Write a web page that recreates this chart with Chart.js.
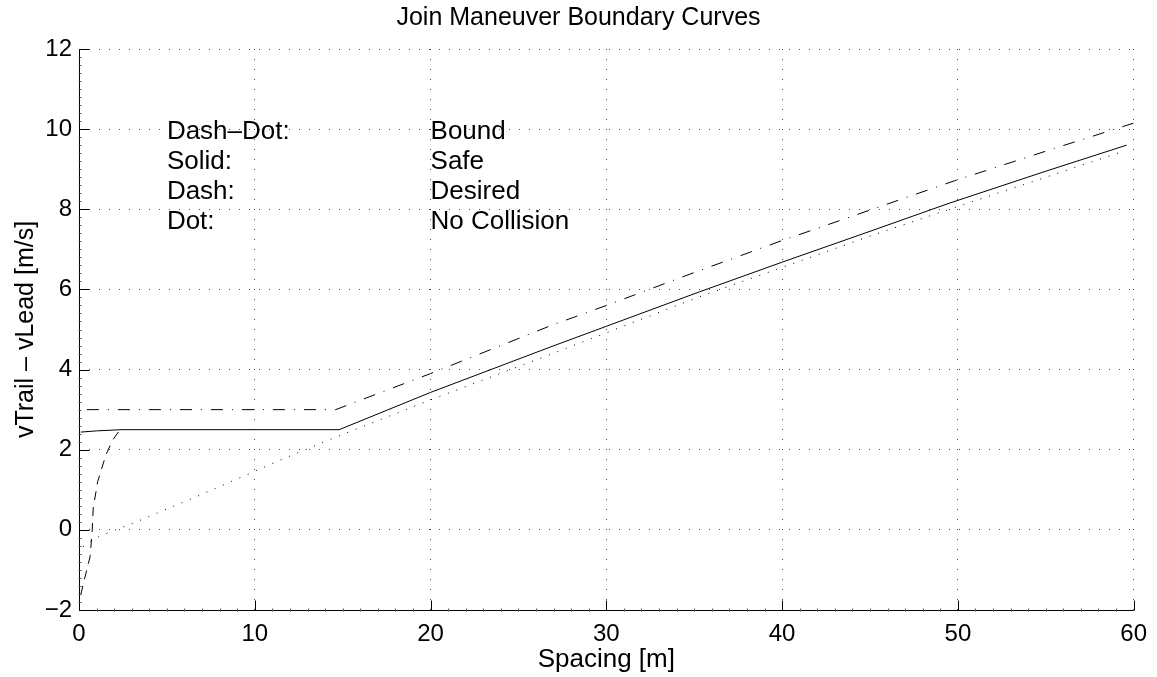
<!DOCTYPE html>
<html>
<head>
<meta charset="utf-8">
<title>Join Maneuver Boundary Curves</title>
<script src="https://cdn.jsdelivr.net/npm/chart.js@4.4.1/dist/chart.umd.min.js"></script>
<style>
    html, body { margin: 0; padding: 0; background: #fff; }
</style>
</head>
<body>
<canvas id="boundaryChart" width="1157" height="677"></canvas>
<script>
// Boundary curves: spacing [m] against vTrail - vLead [m/s]
const boundSpacing = [0.45, 14.6, 20, 26.8, 30, 35.3, 40, 45, 49.8, 55, 60];
const boundSpeed   = [3.0, 3.0, 3.9, 5.09, 5.6, 6.47, 7.22, 7.98, 8.71, 9.45, 10.15];

const safeSpacing = [0.1, 1.0, 2.4, 14.8, 20, 26.8, 30, 35.3, 40, 45, 49.5, 55, 59.6];
const safeSpeed   = [2.44, 2.47, 2.5, 2.5, 3.43, 4.56, 5.08, 5.94, 6.68, 7.45, 8.15, 8.95, 9.6];

const desiredSpacing = [0.1, 0.3, 0.63, 0.74, 0.81, 1.06, 1.53, 1.91, 2.29, 2.5];
const desiredSpeed   = [-1.62, -1.25, -0.67, -0.09, 0.54, 1.2, 1.87, 2.24, 2.47, 2.5];

const noCollisionSpacing = [0.24, 0.6, 1.2, 3.1, 6.9, 11.6, 14.7, 19.75, 26.95, 35.2, 40, 45, 50.06, 55, 59.5];
const noCollisionSpeed   = [-0.42, -0.3, -0.15, 0.17, 0.87, 1.77, 2.33, 3.2, 4.4, 5.8, 6.55, 7.33, 8.08, 8.8, 9.46];

const xTicks = [0, 10, 20, 30, 40, 50, 60];
const yTicks = [-2, 0, 2, 4, 6, 8, 10, 12];

const chartTitle = "Join Maneuver Boundary Curves";

// line-style key written inside the axes
const keyStyles   = ["Dash\u2013Dot:", "Solid:", "Dash:", "Dot:"];
const keyMeanings = ["Bound", "Safe", "Desired", "No Collision"];
const keyRows = [10, 9.25, 8.5, 7.75];
const keyCols = [5, 20];

const FONT = '"Liberation Sans", Arial, Helvetica, sans-serif';

function toPoints(xs, ys) {
    return xs.map((x, i) => ({ x: x, y: ys[i] }));
}

function curve(label, xs, ys, dash) {
    return {
        label: label,
        data: toPoints(xs, ys),
        showLine: true,
        borderColor: "#000",
        borderWidth: 1,
        borderDash: dash,
        pointRadius: 0,
        pointHoverRadius: 0,
        fill: false,
        tension: 0
    };
}

// title centred on the figure, axis lines, inward ticks and the text key
const matlabAxes = {
    id: "matlabAxes",
    afterDatasetsDraw(chart) {
        const { ctx, chartArea, scales } = chart;
        const { left, right, top, bottom } = chartArea;
        const xs = scales.x, ys = scales.y;
        const lx = Math.round(left) + 0.5;
        const by = Math.round(bottom) + 0.5;

        ctx.save();
        ctx.setLineDash([]);
        ctx.strokeStyle = "#000";
        ctx.lineWidth = 1;

        ctx.beginPath();
        ctx.moveTo(lx, top);
        ctx.lineTo(lx, by);
        ctx.lineTo(right, by);
        ctx.stroke();

        // major ticks
        ctx.beginPath();
        xTicks.forEach(v => {
            const px = Math.round(xs.getPixelForValue(v)) + 0.5;
            ctx.moveTo(px, by);
            ctx.lineTo(px, by - 10);
        });
        yTicks.forEach(v => {
            const py = Math.round(ys.getPixelForValue(v)) + 0.5;
            ctx.moveTo(lx, py);
            ctx.lineTo(lx + 10, py);
        });
        ctx.stroke();

        // minor ticks
        ctx.strokeStyle = "#555";
        ctx.beginPath();
        for (let i = 1; i < 60; i++) {
            if (i % 10 === 0) continue;
            const px = Math.round(xs.getPixelForValue(i)) + 0.5;
            ctx.moveTo(px, by + 1);
            ctx.lineTo(px, by - 2);
        }
        for (let i = 1; i < 70; i++) {
            if (i % 10 === 0) continue;
            const py = Math.round(ys.getPixelForValue(-2 + i * 0.2)) + 0.5;
            ctx.moveTo(lx - 1, py);
            ctx.lineTo(lx + 2, py);
        }
        ctx.stroke();

        ctx.fillStyle = "#000";
        ctx.textBaseline = "middle";

        ctx.font = "25px " + FONT;
        ctx.textAlign = "center";
        ctx.fillText(chartTitle, chart.width / 2, 18);

        ctx.font = "26px " + FONT;
        ctx.textAlign = "left";
        keyRows.forEach((row, i) => {
            const py = ys.getPixelForValue(row) + 3;
            ctx.fillText(keyStyles[i], xs.getPixelForValue(keyCols[0]), py);
            ctx.fillText(keyMeanings[i], xs.getPixelForValue(keyCols[1]), py);
        });
        ctx.restore();
    }
};

const ctx = document.getElementById("boundaryChart").getContext("2d");
new Chart(ctx, {
    type: "scatter",
    data: {
        datasets: [
            curve("Bound", boundSpacing, boundSpeed, [12, 9, 1, 9]),
            curve("No Collision", noCollisionSpacing, noCollisionSpeed, [1, 8]),
            curve("Desired", desiredSpacing, desiredSpeed, [9, 7]),
            curve("Safe", safeSpacing, safeSpeed, [])
        ]
    },
    options: {
        responsive: false,
        animation: false,
        devicePixelRatio: 1,
        layout: { padding: { left: 0, right: 22, top: 49, bottom: 0 } },
        plugins: {
            legend: { display: false },
            tooltip: { enabled: false },
            title: { display: false }
        },
        scales: {
            x: {
                type: "linear",
                min: 0,
                max: 60,
                afterFit(scale) { scale.height = 67; },
                ticks: {
                    stepSize: 10,
                    color: "#000",
                    padding: 10,
                    maxRotation: 0,
                    font: { family: FONT, size: 24 }
                },
                grid: { color: "rgba(0,0,0,0.7)", lineWidth: 1, drawTicks: false },
                border: { display: false, dash: [1, 9] },
                title: {
                    display: true,
                    text: "Spacing [m]",
                    color: "#000",
                    font: { family: FONT, size: 26 },
                    padding: { top: 0, bottom: 2 }
                }
            },
            y: {
                type: "linear",
                min: -2,
                max: 12,
                afterFit(scale) { scale.width = 79; },
                ticks: {
                    stepSize: 2,
                    color: "#000",
                    padding: 7,
                    font: { family: FONT, size: 24 },
                    callback: v => String(v).replace("-", "\u2212")
                },
                grid: { color: "rgba(0,0,0,0.7)", lineWidth: 1, drawTicks: false },
                border: { display: false, dash: [1, 9] },
                title: {
                    display: true,
                    text: "vTrail \u2013 vLead [m/s]",
                    color: "#000",
                    font: { family: FONT, size: 25 },
                    padding: { top: 11, bottom: 0 }
                }
            }
        }
    },
    plugins: [matlabAxes]
});
</script>
</body>
</html>
